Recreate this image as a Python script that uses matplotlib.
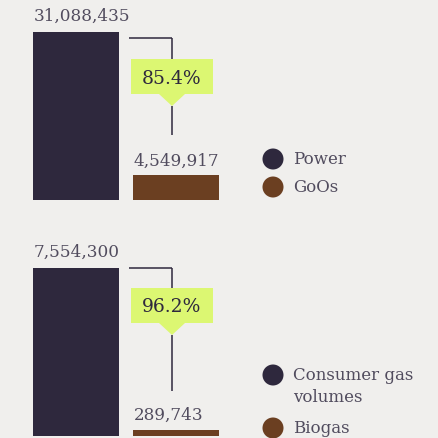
import matplotlib
matplotlib.use("Agg")
import matplotlib.pyplot as plt
from matplotlib.patches import Polygon, Rectangle, Circle

# ---- data ----
top_labels = ["Power", "GoOs"]
top_values = [31088435, 4549917]
top_pct = "85.4%"
bot_labels = ["Consumer gas\nvolumes", "Biogas"]
bot_values = [7554300, 289743]
bot_pct = "96.2%"

colors = ["#2e283d", "#6b3f21"]
bg = "#f0efed"
green = "#dcf772"
txt = "#514c5e"
FONT = "DejaVu Serif"

W = H = 439
fig = plt.figure(figsize=(4.39, 4.39), dpi=100, facecolor=bg)

# overlay in pixel coordinates for decorations
ov = fig.add_axes([0, 0, 1, 1], zorder=5)
ov.set_xlim(0, W)
ov.set_ylim(H, 0)
ov.axis("off")
ov.patch.set_alpha(0)


def panel(values, pct, base_px, top_px, hline_y, box_top, tip_y, line_end):
    bar_h = base_px - top_px
    ax_h = base_px
    ax = fig.add_axes([0, (H - base_px) / H, 1, ax_h / H], zorder=1)
    ax.set_facecolor("none")
    ax.set_xlim(-0.76, 3.63)
    ax.set_ylim(0, values[0] * ax_h / bar_h)
    ax.axis("off")
    xs = [0, 1]
    ax.bar(xs, values, width=0.86, color=colors, align="center")
    gaps = [12, 11]
    for x, v, g in zip(xs, values, gaps):
        ax.annotate(f"{v:,}", (x - 0.43, v), xytext=(1, g), textcoords="offset pixels",
                    ha="left", va="baseline", fontsize=12.2, color=txt, family=FONT)
    cx = 172
    ov.plot([129, cx], [hline_y, hline_y], color="#2e283d", lw=1.1, solid_capstyle="butt")
    ov.plot([cx, cx], [hline_y, box_top], color="#2e283d", lw=1.1, solid_capstyle="butt")
    ov.plot([cx, cx], [tip_y, line_end], color="#2e283d", lw=1.1, solid_capstyle="butt")
    bh = 35
    ov.add_patch(Rectangle((131, box_top), 82, bh, color=green, lw=0))
    ov.add_patch(Polygon([(159, box_top + bh), (185, box_top + bh), (cx, tip_y)],
                         closed=True, color=green, lw=0))
    ov.text(cx, box_top + bh / 2 + 1, pct, ha="center", va="center", fontsize=13.5,
            color="#2e283d", family=FONT)


panel(top_values, top_pct, 201, 33, 39, 60, 107, 136)
panel(bot_values, bot_pct, 437, 269, 269, 289, 336, 392)


def legend_item(label, y, c):
    ov.add_patch(Circle((273, y), 10.5, color=c, lw=0))
    lines = label.split("\n")
    for i, line in enumerate(lines):
        ov.text(293, y + 22 * i, line, ha="left", va="center", fontsize=12,
                color=txt, family=FONT)


for lab, y, c in zip(top_labels, [160, 188], colors):
    legend_item(lab, y, c)
for lab, y, c in zip(bot_labels, [376, 429], colors):
    legend_item(lab, y, c)

fig.savefig("out.png", dpi=100, facecolor=bg)
